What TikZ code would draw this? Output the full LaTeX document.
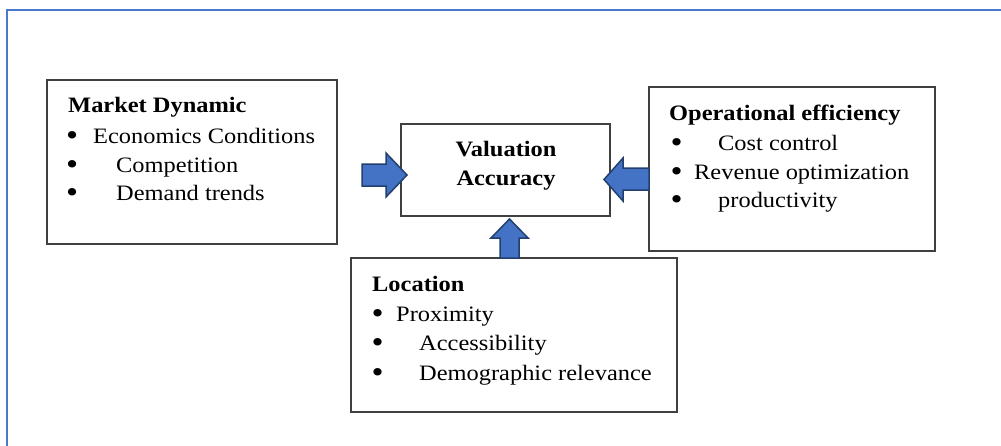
\documentclass[tikz,border=0pt]{standalone}
\usepackage{fontspec}
\setmainfont{Liberation Serif}[FakeStretch=1.11]
\definecolor{frameblue}{HTML}{4A78CC}
\definecolor{arrowblue}{HTML}{4472C4}
\definecolor{arrowedge}{HTML}{22406E}
\definecolor{boxgray}{HTML}{404040}
\newcommand{\bodysize}{\fontsize{22}{26}\selectfont}
\tikzset{
  panel/.style={draw=boxgray, line width=1.4pt, fill=white, inner sep=0pt, outer sep=0pt},
  heading/.style={anchor=base west, inner sep=0pt, font=\bodysize\bfseries},
  item/.style={anchor=base west, inner sep=0pt, font=\bodysize},
  centrehead/.style={anchor=base, inner sep=0pt, font=\bodysize\bfseries},
  blockarrow/.style={fill=arrowblue, draw=arrowedge, line width=1.5pt, line join=miter},
  frameline/.style={draw=frameblue, line width=2.2pt},
}
% bullet set in a box of the given width, text follows after it
\newcommand{\bul}[1]{\makebox[#1][l]{\hspace{-1.5pt}\raisebox{-2.6pt}{\fontsize{31}{31}\selectfont\textbullet}}}
\begin{document}
\begin{tikzpicture}[x=1pt, y=-1pt]
\useasboundingbox (0,0) rectangle (1001,445);

% outer frame (top and left edges)
\draw[frameline] (1012,10) -- (7,10) -- (7,456);

% boxes
\node[panel, minimum width=290pt, minimum height=164pt] (md) at (192,162) {};
\node[panel, minimum width=209pt, minimum height=92pt] (va) at (505.5,170) {};
\node[panel, minimum width=286pt, minimum height=164pt] (op) at (792,169) {};
\node[panel, minimum width=326pt, minimum height=154pt] (loc) at (514,335) {};

% Market Dynamic
\node[heading] (mdT) at (68,112) {Market Dynamic};
\node[item] (md1) at (67.5,143) {\bul{25.5pt}Economics Conditions};
\node[item] (md2) at (67.5,172) {\bul{48.5pt}Competition};
\node[item] (md3) at (67.5,200) {\bul{48.5pt}Demand trends};

% Valuation Accuracy
\node[centrehead] (vaA) at (506,156) {Valuation};
\node[centrehead] (vaB) at (506,185) {Accuracy};

% Operational efficiency
\node[heading] (opT) at (669,120) {Operational efficiency};
\node[item] (op1) at (672,150) {\bul{46pt}Cost control};
\node[item] (op2) at (672,179) {\bul{22pt}Revenue optimization};
\node[item] (op3) at (672,207) {\bul{46pt}productivity};

% Location
\node[heading] (locT) at (372,291) {Location};
\node[item] (loc1) at (373,321) {\bul{23pt}Proximity};
\node[item] (loc2) at (373,350) {\bul{46pt}Accessibility};
\node[item] (loc3) at (373,380) {\bul{46pt}Demographic relevance};

% block arrows into the central box
\draw[blockarrow] (362,164) -- (386,164) -- (386,153) -- (407,175)
  -- (386,197) -- (386,186) -- (362,186) -- cycle;
\draw[blockarrow] (op.west |- 0,168) -- (623,168) -- (623,158) -- (604,179.5)
  -- (623,201) -- (623,190) -- (op.west |- 0,190) -- cycle;
\draw[blockarrow] (500,258) -- (500,238) -- (491,238) -- (509.5,219)
  -- (528,238) -- (519,238) -- (519,258) -- cycle;
\end{tikzpicture}
\end{document}
